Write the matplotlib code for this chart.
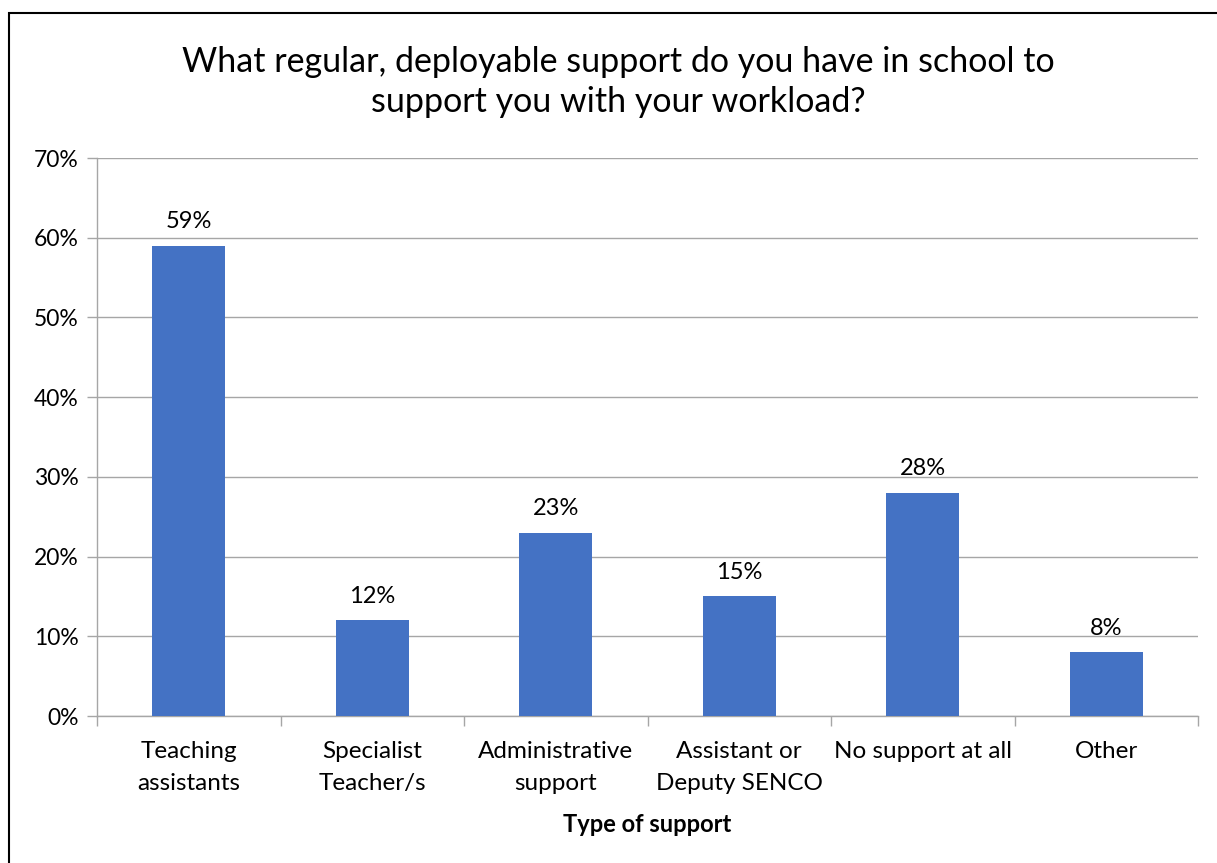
import matplotlib.pyplot as plt
from matplotlib.patches import Rectangle
from matplotlib.ticker import MultipleLocator, FuncFormatter

categories = ['Teaching\nassistants', 'Specialist\nTeacher/s', 'Administrative\nsupport',
              'Assistant or\nDeputy SENCO', 'No support at all', 'Other']
values = [59, 12, 23, 15, 28, 8]

plt.rcParams['font.family'] = ['Lato', 'DejaVu Sans']

W, H = 1217, 863
fig = plt.figure(figsize=(W / 100, H / 100), dpi=100)
ax = fig.add_axes([97 / W, 1 - 716 / H, (1198 - 97) / W, (716 - 158) / H])

x = range(len(values))
ax.bar(x, values, width=0.40, color='#4472C4', zorder=3)
for xi, v in zip(x, values):
    ax.text(xi, v + 1.7, f'{v}%', ha='center', va='bottom', fontsize=17, color='#000000')

ax.set_xlim(-0.5, len(values) - 0.5)
ax.set_ylim(0, 70)
ax.yaxis.set_major_locator(MultipleLocator(10))
ax.yaxis.set_major_formatter(FuncFormatter(lambda v, p: f'{v:.0f}%'))
ax.grid(axis='y', color='#A6A6A6', linewidth=1, zorder=0)

ax.set_xticks(list(x))
ax.set_xticklabels(categories, fontsize=17.5, linespacing=1.62)
ax.tick_params(axis='x', length=0, pad=18)
ax.set_xticks([i - 0.5 for i in range(len(values) + 1)], minor=True)
ax.tick_params(axis='x', which='minor', length=7, color='#A6A6A6', width=1)
ax.tick_params(axis='y', length=7, color='#A6A6A6', width=1, labelsize=16.5, pad=6)

for s in ['top', 'right']:
    ax.spines[s].set_visible(False)
for s in ['left', 'bottom']:
    ax.spines[s].set_color('#A6A6A6')
    ax.spines[s].set_linewidth(1)

ax.set_xlabel('Type of support', fontsize=17, fontweight='bold', labelpad=14)

fig.text(618 / W, 1 - 82 / H,
         'What regular, deployable support do you have in school to\nsupport you with your workload?',
         ha='center', va='center', fontsize=24.5, linespacing=1.3)

# outer chart frame
fig.patches.append(Rectangle((9 / W, -0.1), 1.2, 1 - 13 / H + 0.1, transform=fig.transFigure,
                             fill=False, edgecolor='black', linewidth=1.5))

fig.savefig('out.png', dpi=100)
